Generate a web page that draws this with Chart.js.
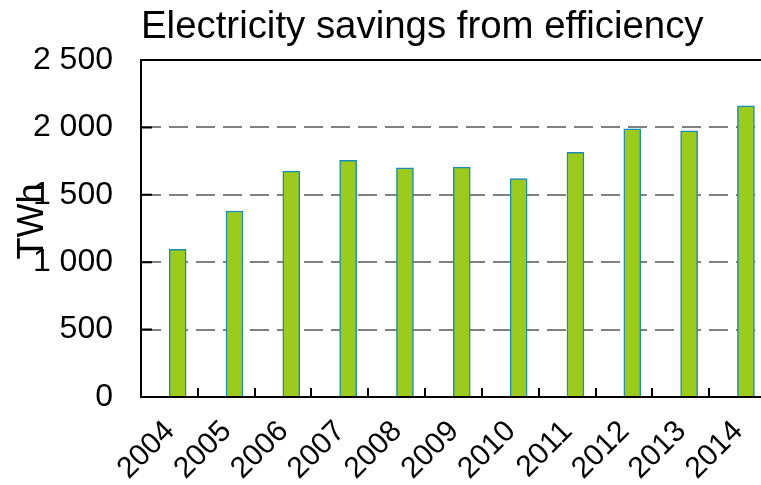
<!DOCTYPE html>
<html>
<head>
<meta charset="utf-8">
<script src="https://cdn.jsdelivr.net/npm/chart.js@4/dist/chart.umd.min.js"></script>
<style>
  html, body { margin: 0; padding: 0; background: #fff; }
  canvas { display: block; }
</style>
</head>
<body>
<canvas id="chart" width="761" height="485"></canvas>
<script>
// Electricity savings from efficiency, TWh per year
const years = ['2004', '2005', '2006', '2007', '2008', '2009', '2010', '2011', '2012', '2013', '2014'];
const savingsTWh = [1095, 1380, 1675, 1755, 1700, 1705, 1620, 1815, 1990, 1975, 2160];
const valueTicks = [0, 500, 1000, 1500, 2000, 2500];
const unitLabel = 'TWh';

const FONT = 'Liberation Sans, Arial, Helvetica, sans-serif';
const BAR_POS = 0.645;    // bar centre inside each year slot
const LABEL_POS = 0.51;   // anchor of the slanted year label inside each slot

const fmt = v => String(v).replace(/\B(?=(\d{3})+(?!\d))/g, ' ');

// Frame top edge, inward tick marks on both axes, and the unit label
const axisFrame = {
  id: 'axisFrame',
  afterDraw(chart) {
    const { ctx, chartArea: a, scales: { x, y } } = chart;
    ctx.save();
    ctx.strokeStyle = '#000';
    ctx.lineWidth = 2;
    ctx.beginPath();
    ctx.moveTo(a.left - 1, a.top);
    ctx.lineTo(a.right, a.top);
    valueTicks.forEach(v => {
      const py = y.getPixelForValue(v);
      ctx.moveTo(a.left, py);
      ctx.lineTo(a.left + 11, py);
    });
    for (let k = 1; k < years.length; k++) {
      const px = Math.round(x.getPixelForValue(k));
      ctx.moveTo(px, a.bottom);
      ctx.lineTo(px, a.bottom - 9);
    }
    ctx.stroke();

    // unit label, rotated, sitting over the value labels
    const midY = (a.top + a.bottom) / 2 - 7;
    ctx.translate(43, midY);
    ctx.rotate(-Math.PI / 2);
    ctx.fillStyle = '#000';
    ctx.font = '36px ' + FONT;
    ctx.textAlign = 'center';
    ctx.textBaseline = 'alphabetic';
    ctx.fillText(unitLabel, 0, 0);
    ctx.restore();
  }
};

new Chart(document.getElementById('chart'), {
  type: 'bar',
  data: {
    datasets: [{
      data: savingsTWh.map((v, i) => ({ x: i + BAR_POS, y: v })),
      backgroundColor: '#9bcc1b',
      borderColor: '#1a8cb8',
      borderWidth: 1.5,
      borderSkipped: 'bottom',
      barThickness: 17
    }]
  },
  options: {
    responsive: false,
    animation: false,
    devicePixelRatio: 1,
    layout: { padding: 0 },
    plugins: {
      legend: { display: false },
      tooltip: { enabled: false },
      title: {
        display: true,
        text: 'Electricity savings from efficiency',
        align: 'start',
        fullSize: false,
        color: '#000',
        font: { family: FONT, size: 38.4, weight: 'normal', lineHeight: 1.2 },
        padding: { top: 4, bottom: 9.9 }
      }
    },
    scales: {
      x: {
        type: 'linear',
        offset: false,
        min: 0,
        max: 10.91,
        afterBuildTicks: s => { s.ticks = years.map((_, i) => ({ value: i + LABEL_POS })); },
        afterFit: s => { s.height = 88; s.paddingLeft = 0; s.paddingRight = 0; },
        grid: { display: false, offset: false },
        border: { display: true, color: '#000', width: 2 },
        ticks: {
          autoSkip: false,
          minRotation: 45,
          maxRotation: 45,
          padding: 9,
          color: '#000',
          font: { family: FONT, size: 30 },
          callback: (v, i) => years[i]
        }
      },
      y: {
        min: 0,
        max: 2500,
        afterBuildTicks: s => { s.ticks = valueTicks.map(v => ({ value: v })); },
        afterFit: s => { s.width = 141; s.paddingTop = 0; s.paddingBottom = 0; },
        grid: {
          drawTicks: false,
          lineWidth: 2,
          color: c => (c.tick && (c.tick.value === 0 || c.tick.value === 2500)) ? 'rgba(0,0,0,0)' : '#808080'
        },
        border: { display: true, color: '#000', width: 2, dash: [19, 8] },
        ticks: {
          padding: 28,
          color: '#000',
          font: { family: FONT, size: 32 },
          callback: v => fmt(v)
        }
      }
    }
  },
  plugins: [axisFrame]
});
</script>
</body>
</html>
